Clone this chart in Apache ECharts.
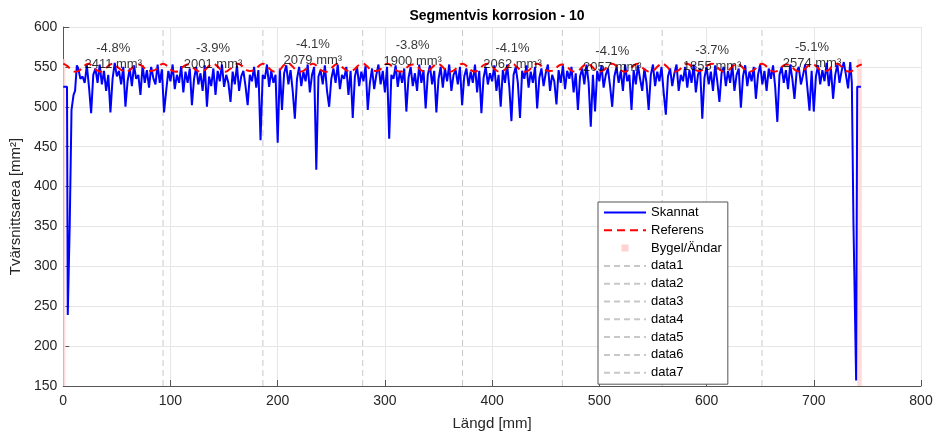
<!DOCTYPE html>
<html>
<head>
<meta charset="utf-8">
<title>Segmentvis korrosion - 10</title>
<script src="https://cdn.jsdelivr.net/npm/echarts@6/dist/echarts.min.js"></script>
<style>
html,body{margin:0;padding:0;background:#fff}
#chart{width:937px;height:439px}
</style>
</head>
<body>
<div id="chart"></div>
<script>
// skannad tvärsnittsarea [mm2] - ändarna med egna x, mitten var 2:a mm
var scanHead = [[0,525],[3.5,525],[4.2,239],[6,350],[7.7,496],[9.6,515],[11,520],[12.7,552]];
var scanStart = 14, scanStep = 2;
var scanValues = [
    548,535,538,530,552,525,492,540,548,530,
    553,528,545,520,540,493,535,555,538,545,
    528,550,500,532,548,526,552,535,540,515,
    552,530,546,524,550,536,528,553,530,547,
    493,520,545,532,553,522,540,530,551,518,
    544,530,548,502,535,550,528,542,520,552,
    500,538,526,548,515,545,532,553,525,540,
    530,506,544,528,552,520,538,545,526,502,
    540,532,550,524,546,458,540,535,553,525,
    545,530,540,455,548,496,542,552,528,546,
    520,485,535,550,526,544,532,553,518,540,
    550,421,538,546,528,552,520,500,535,548,
    530,553,522,540,535,550,515,545,486,538,
    550,526,544,532,552,496,530,548,522,540,
    553,528,545,518,550,460,540,535,552,525,
    545,530,548,494,536,550,526,542,520,553,
    530,546,498,540,552,528,545,493,535,550,
    524,548,532,553,520,540,546,528,550,502,
    538,548,526,544,530,553,518,545,492,536,
    550,528,542,532,552,520,540,500,546,530,
    553,525,482,540,550,530,486,545,535,552,
    524,544,530,550,498,536,548,526,542,553,
    520,540,532,503,546,530,552,522,545,535,
    550,518,542,496,538,548,528,553,530,475,
    540,494,545,532,552,524,540,548,526,500,
    538,550,530,545,520,553,532,540,496,546,
    528,552,535,520,548,530,496,540,553,526,
    544,532,550,518,490,538,548,526,542,553,
    520,540,532,550,524,546,530,553,518,540,
    548,485,536,550,528,544,520,552,532,506,
    542,550,526,545,530,553,520,540,548,499,
    538,552,526,544,532,550,510,540,553,528,
    545,520,548,535,552,525,481,540,550,530,
    546,522,553,535,510,544,550,528,540,553,
    524,495,545,494,538,552,528,546,532,555,
    526,548,510,540,553,530,545,556,540,523
];
var scanTail = [[734,556],[735.5,530],[737,355],[739.5,157],[740.5,525],[744,525]];

// referens, 24 punkter per segment
var refStep = 93.1 / 24;
var refValues = [
    554,551,546,544,546,551, 554,551,546,544,547,552, 554,550,546,544,546,551, 553,551,546,545,546,551,
    554,551,546,544,546,551, 553,550,546,544,546,551, 554,551,546,544,547,551, 554,551,546,545,546,551,
    554,551,546,544,546,552, 555,551,546,544,546,551, 554,551,546,544,546,551, 554,550,546,544,547,552,
    554,551,546,545,546,551, 554,551,546,544,546,551, 553,551,546,544,546,551, 554,551,546,544,546,551,
    554,551,546,544,547,552, 554,551,546,544,546,551, 554,550,546,544,546,551, 554,551,546,545,546,551,
    553,551,546,544,546,551, 554,551,546,544,546,552, 554,551,546,544,546,551, 554,550,546,544,546,551,
    554,551,546,544,546,551, 554,551,546,545,547,552, 554,551,546,544,546,551, 554,551,546,544,546,551,
    554,551,546,544,546,551, 553,551,546,544,546,551, 554,551,546,545,546,552, 554,551,546,544,546,551,
    553
];

var segBounds = [93.1,186.2,279.3,372.4,465.5,558.6,651.7];
var segCenters = [46.6,139.7,232.8,325.9,419.0,512.1,605.2,698.3];
var segPercent = ['-4.8%','-3.9%','-4.1%','-3.8%','-4.1%','-4.1%','-3.7%','-5.1%'];
var segVolume = [2411,2001,2079,1900,2062,2057,1855,2574];
var segLabelY = [562.5,563.3,567.6,567.4,562.7,558.8,560.0,564.3];
var endBands = [[0,2],[740.5,744.8]];
var bandTop = 560;

var font = 'Liberation Sans';

var scanData = scanHead.slice();
for (var i = 0; i < scanValues.length; i++) {
    scanData.push([scanStart + i * scanStep, scanValues[i]]);
}
scanData = scanData.concat(scanTail);

var refData = [];
for (var j = 0; j < refValues.length; j++) {
    refData.push([j * refStep, refValues[j]]);
}

var series = [];
series.push({
    name: 'Bygel/Ändar',
    type: 'line',
    symbol: 'none',
    data: [],
    itemStyle: {color: '#ffd2d2'},
    lineStyle: {width: 0},
    markArea: {
        silent: true,
        itemStyle: {color: '#ffdcdc'},
        data: endBands.map(function (b) {
            return [{coord: [b[0], 150]}, {coord: [b[1], bandTop]}];
        })
    },
    z: 1
});
segBounds.forEach(function (b, k) {
    series.push({
        name: 'data' + (k + 1),
        type: 'line',
        symbol: 'none',
        data: [[b, 150], [b, 600]],
        itemStyle: {color: '#c8c8c8'},
        lineStyle: {color: '#c8c8c8', width: 1, type: [6, 4]},
        z: 2
    });
});
series.push({
    name: 'Skannat',
    type: 'line',
    symbol: 'none',
    data: scanData,
    itemStyle: {color: '#0000ff'},
    lineStyle: {color: '#0000ff', width: 2},
    z: 3
});
series.push({
    name: 'Referens',
    type: 'line',
    symbol: 'none',
    smooth: true,
    data: refData,
    itemStyle: {color: '#ff0000'},
    lineStyle: {color: '#ff0000', width: 2, type: [8, 5]},
    z: 4
});
series.push({
    name: 'segtext',
    type: 'scatter',
    symbolSize: 1,
    itemStyle: {color: 'rgba(0,0,0,0)'},
    data: segCenters.map(function (c, k) { return [c, segLabelY[k]]; }),
    label: {
        show: true,
        position: 'inside',
        fontFamily: font,
        fontSize: 13,
        lineHeight: 16,
        color: '#000',
        textBorderWidth: 0,
        formatter: function (p) {
            return segPercent[p.dataIndex] + '\n' + segVolume[p.dataIndex] + ' mm³';
        }
    },
    z: 5
});

// linjeserierna får ingen symbol i legenden
var legendData = [
    {name: 'Skannat'},
    {name: 'Referens'},
    {name: 'Bygel/Ändar', icon: 'path://M0,0L0,0ZM42,13L42,13ZM17.5,3L24.5,3L24.5,10L17.5,10Z',
        itemStyle: {color: '#ffd2d2', opacity: 1}}
];
segBounds.forEach(function (b, k) { legendData.push({name: 'data' + (k + 1)}); });

var chart = echarts.init(document.getElementById('chart'));
chart.setOption({
    animation: false,
    backgroundColor: '#ffffff',
    textStyle: {fontFamily: font},
    title: {
        text: 'Segmentvis korrosion - 10',
        left: 492,
        textAlign: 'center',
        top: 4,
        textStyle: {fontFamily: font, fontSize: 14, fontWeight: 'bold', color: '#000'}
    },
    grid: {left: 62, right: 16, top: 27, bottom: 53},
    legend: {
        orient: 'vertical',
        left: 598,
        top: 202,
        padding: [4, 6, 5, 5],
        itemWidth: 42,
        itemHeight: 13,
        itemGap: 4.8,
        backgroundColor: '#ffffff',
        borderColor: '#555555',
        borderWidth: 1,
        borderRadius: 0,
        selectedMode: false,
        itemStyle: {opacity: 0},
        textStyle: {fontFamily: font, fontSize: 13, color: '#000'},
        data: legendData
    },
    xAxis: {
        type: 'value',
        min: 0, max: 800, interval: 100,
        name: 'Längd [mm]',
        nameLocation: 'middle',
        nameGap: 30,
        nameTextStyle: {fontFamily: font, fontSize: 15, color: '#262626'},
        axisLine: {show: true, onZero: false, lineStyle: {color: '#555', width: 1}},
        axisTick: {show: true, inside: true, length: 6, lineStyle: {color: '#555'}},
        axisLabel: {fontFamily: font, fontSize: 14, color: '#262626', margin: 8},
        splitLine: {show: true, lineStyle: {color: '#e6e6e6', width: 1}}
    },
    yAxis: {
        type: 'value',
        min: 150, max: 600, interval: 50,
        name: 'Tvärsnittsarea [mm²]',
        nameLocation: 'middle',
        nameGap: 35,
        nameTextStyle: {fontFamily: font, fontSize: 15, color: '#262626'},
        axisLine: {show: true, lineStyle: {color: '#555', width: 1}},
        axisTick: {show: true, inside: true, length: 6, lineStyle: {color: '#555'}},
        axisLabel: {fontFamily: font, fontSize: 14, color: '#262626', margin: 6},
        splitLine: {show: true, lineStyle: {color: '#e6e6e6', width: 1}}
    },
    series: series
});
</script>
</body>
</html>
